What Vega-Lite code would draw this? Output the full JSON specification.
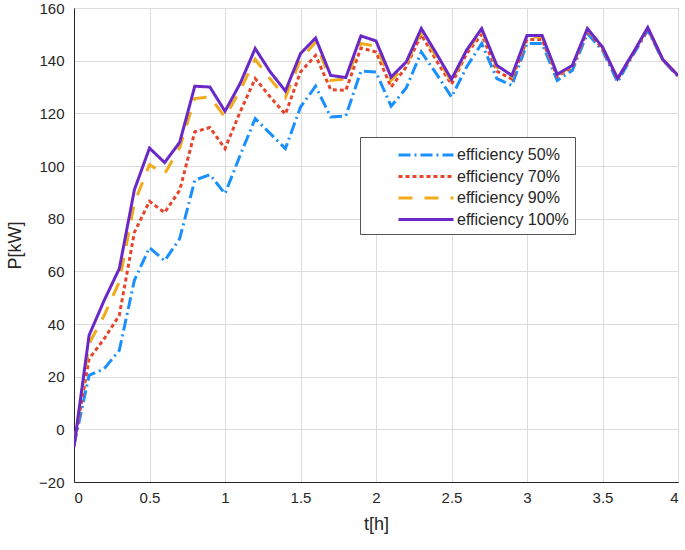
{
  "$schema": "https://vega.github.io/schema/vega-lite/v6.json",
  "autosize": {"type": "none"},
  "width": 604,
  "height": 474,
  "padding": {"left": 74, "top": 8, "right": 7, "bottom": 68},
  "background": "white",
  "config": {
    "font": "Liberation Sans",
    "view": {"stroke": "#262626", "strokeWidth": 1},
    "axis": {
      "labelFont": "Liberation Sans",
      "titleFont": "Liberation Sans",
      "labelFontSize": 15,
      "titleFontSize": 18,
      "titleFontWeight": "normal",
      "labelColor": "#262626",
      "titleColor": "#262626",
      "domainColor": "#262626",
      "gridColor": "#dcdcdc",
      "gridWidth": 1,
      "ticks": false
    }
  },
  "data": {
    "values": [
      {"t": 0.0, "e50": -6, "e70": -6, "e90": -6, "e100": -6.7},
      {"t": 0.1, "e50": 20.5, "e70": 26.8, "e90": 32.5, "e100": 35.7},
      {"t": 0.2, "e50": 23, "e70": 34.4, "e90": 43.3, "e100": 49},
      {"t": 0.3, "e50": 30, "e70": 43.3, "e90": 56, "e100": 61},
      {"t": 0.4, "e50": 56.6, "e70": 74.8, "e90": 86, "e100": 91},
      {"t": 0.5, "e50": 69, "e70": 86.6, "e90": 100.5, "e100": 106.8},
      {"t": 0.6, "e50": 64, "e70": 82.3, "e90": 97, "e100": 101.3},
      {"t": 0.7, "e50": 72.4, "e70": 90.8, "e90": 107, "e100": 109},
      {"t": 0.8, "e50": 94.6, "e70": 113, "e90": 125.6, "e100": 130.3},
      {"t": 0.9, "e50": 96.7, "e70": 114.6, "e90": 126.2, "e100": 130},
      {"t": 1.0, "e50": 89.5, "e70": 106.6, "e90": 118.6, "e100": 120.8},
      {"t": 1.1, "e50": 104, "e70": 120.5, "e90": 128.7, "e100": 131.3},
      {"t": 1.2, "e50": 118, "e70": 133.2, "e90": 140.5, "e100": 144.6},
      {"t": 1.3, "e50": 112.3, "e70": 126.2, "e90": 133, "e100": 135.7},
      {"t": 1.4, "e50": 106.6, "e70": 119.7, "e90": 126, "e100": 128.5},
      {"t": 1.5, "e50": 122.4, "e70": 135.7, "e90": 140.5, "e100": 142.7},
      {"t": 1.6, "e50": 130.3, "e70": 142, "e90": 147, "e100": 148.6},
      {"t": 1.7, "e50": 118.6, "e70": 129, "e90": 132.5, "e100": 134.4},
      {"t": 1.8, "e50": 119, "e70": 128.7, "e90": 133, "e100": 133.6},
      {"t": 1.9, "e50": 136, "e70": 144.8, "e90": 146.5, "e100": 149.4},
      {"t": 2.0, "e50": 135.7, "e70": 143.3, "e90": 145.5, "e100": 147.5},
      {"t": 2.1, "e50": 122.7, "e70": 130, "e90": 132.5, "e100": 133.8},
      {"t": 2.2, "e50": 129.6, "e70": 137.6, "e90": 138.5, "e100": 139.5},
      {"t": 2.3, "e50": 143.3, "e70": 149.9, "e90": 151, "e100": 152.2},
      {"t": 2.4, "e50": 135, "e70": 140, "e90": 141.5, "e100": 142.7},
      {"t": 2.5, "e50": 126.2, "e70": 131, "e90": 132, "e100": 132.9},
      {"t": 2.6, "e50": 137.6, "e70": 142.7, "e90": 143.5, "e100": 144},
      {"t": 2.7, "e50": 146.5, "e70": 150, "e90": 151.5, "e100": 152.2},
      {"t": 2.8, "e50": 133.2, "e70": 136, "e90": 137.5, "e100": 138.2},
      {"t": 2.9, "e50": 130.6, "e70": 133, "e90": 134, "e100": 134.4},
      {"t": 3.0, "e50": 146.5, "e70": 148, "e90": 149, "e100": 149.6},
      {"t": 3.1, "e50": 146.5, "e70": 148, "e90": 149, "e100": 149.6},
      {"t": 3.2, "e50": 132.5, "e70": 134, "e90": 134.5, "e100": 134.8},
      {"t": 3.3, "e50": 136.3, "e70": 137.5, "e90": 138, "e100": 138.2},
      {"t": 3.4, "e50": 150.3, "e70": 151.5, "e90": 152, "e100": 152.2},
      {"t": 3.5, "e50": 143.9, "e70": 144.5, "e90": 145, "e100": 145.2},
      {"t": 3.6, "e50": 131.9, "e70": 133, "e90": 133.2, "e100": 133.2},
      {"t": 3.7, "e50": 142, "e70": 142.5, "e90": 142.6, "e100": 142.7},
      {"t": 3.8, "e50": 151.5, "e70": 152, "e90": 152.5, "e100": 152.6},
      {"t": 3.9, "e50": 140.1, "e70": 140.3, "e90": 140.4, "e100": 140.4},
      {"t": 4.0, "e50": 134, "e70": 134.2, "e90": 134.3, "e100": 134.4}
    ]
  },
  "transform": [
    {"fold": ["e50", "e70", "e90", "e100"], "as": ["series", "P"]}
  ],
  "mark": {"type": "line", "strokeWidth": 3, "clip": true},
  "encoding": {
    "x": {
      "field": "t", "type": "quantitative",
      "scale": {"domain": [0, 4], "nice": false},
      "axis": {"values": [0, 0.5, 1, 1.5, 2, 2.5, 3, 3.5, 4], "format": "~g", "title": "t[h]", "labelPadding": 8, "titlePadding": 10}
    },
    "y": {
      "field": "P", "type": "quantitative",
      "scale": {"domain": [-20, 160], "nice": false, "zero": false},
      "axis": {"values": [-20, 0, 20, 40, 60, 80, 100, 120, 140, 160], "title": "P[kW]", "labelPadding": 10, "titlePadding": 14}
    },
    "color": {
      "field": "series", "type": "nominal",
      "scale": {"domain": ["e50", "e70", "e90", "e100"], "range": ["#1a90ff", "#e8452c", "#f0aa1a", "#6a28c8"]},
      "legend": {
        "title": null,
        "orient": "none",
        "legendX": 286,
        "legendY": 129,
        "labelExpr": "'efficiency ' + replace(datum.label, 'e', '') + '%\u00a0\u00a0\u00a0\u00a0\u00a0\u00a0\u00a0'",
        "labelFont": "Liberation Sans",
        "labelFontSize": 16,
        "labelColor": "#262626",
        "symbolType": "M-2.62,0H2.62",
        "symbolSize": 441,
        "symbolStrokeWidth": 3,
        "symbolOffset": 48,
        "labelOffset": 19,
        "padding": 6,
        "rowPadding": 1.5,
        "strokeColor": "#555555",
        "fillColor": "white",
        "cornerRadius": 0
      }
    },
    "strokeDash": {
      "field": "series", "type": "nominal",
      "scale": {"domain": ["e50", "e70", "e90", "e100"], "range": [[12, 4, 2, 4], [4, 3], [14, 12], [1, 0]]},
      "legend": null
    }
  }
}
